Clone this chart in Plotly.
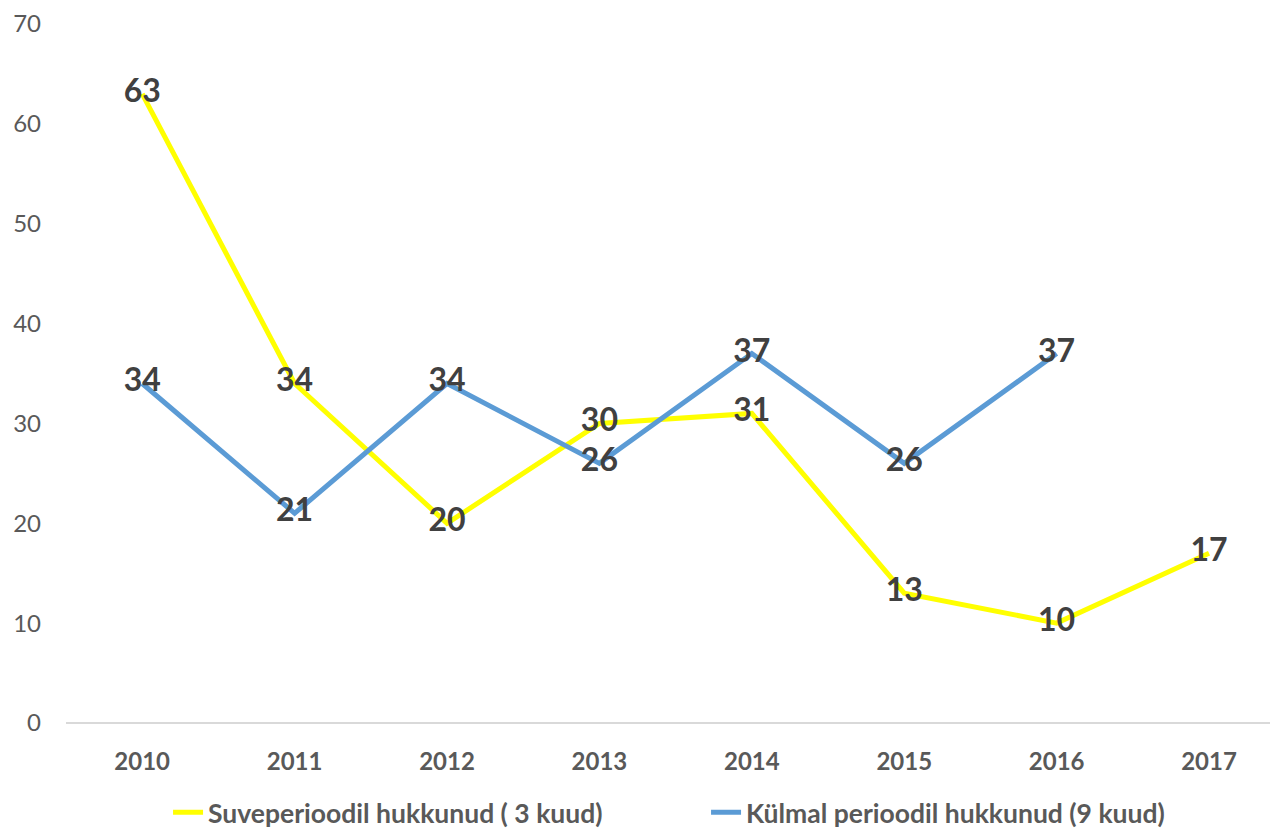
import plotly.graph_objects as go

years = ["2010", "2011", "2012", "2013", "2014", "2015", "2016", "2017"]
summer = [63, 34, 20, 30, 31, 13, 10, 17]
cold = [34, 21, 34, 26, 37, 26, 37, None]
summer_name = "Suveperioodil hukkunud ( 3 kuud)"
cold_name = "Külmal perioodil hukkunud (9 kuud)"

label_font = dict(family="Lato", size=32, color="#404040", weight="bold")

fig = go.Figure()
fig.add_trace(go.Scatter(
    x=years, y=summer, name=summer_name, mode="lines+text",
    line=dict(color="#FFFF00", width=5),
    text=[str(v) for v in summer], textposition="middle center",
    textfont=label_font,
))
fig.add_trace(go.Scatter(
    x=years, y=cold, name=cold_name, mode="lines+text",
    line=dict(color="#5B9BD5", width=5),
    text=[str(v) if v is not None else "" for v in cold], textposition="middle center",
    textfont=label_font,
))

fig.update_layout(
    width=1270, height=821,
    margin=dict(l=58, r=8, t=16, b=106, autoexpand=False),
    plot_bgcolor="white", paper_bgcolor="white",
    font=dict(family="Lato", color="#595959"),
    showlegend=True,
    legend=dict(orientation="h", x=0.5316, xanchor="center", y=-0.128, yanchor="middle",
                entrywidth=493, entrywidthmode="pixels",
                font=dict(family="Lato", size=26.5, color="#595959", weight="bold")),
    xaxis=dict(type="category", range=[-0.5, 7.4], showgrid=False, showline=False,
               zeroline=False, automargin=False, ticks="", ticklabelstandoff=22,
               tickfont=dict(family="Lato", size=24, color="#595959", weight="bold")),
    yaxis=dict(range=[0, 70], dtick=10, showgrid=False, showline=False,
               automargin=False,
               zeroline=True, zerolinecolor="#d9d9d9", zerolinewidth=1.5,
               ticks="", tickfont=dict(family="Lato", size=24, color="#595959"),
               ticklabelstandoff=24),
)
fig.write_html("out.html")
